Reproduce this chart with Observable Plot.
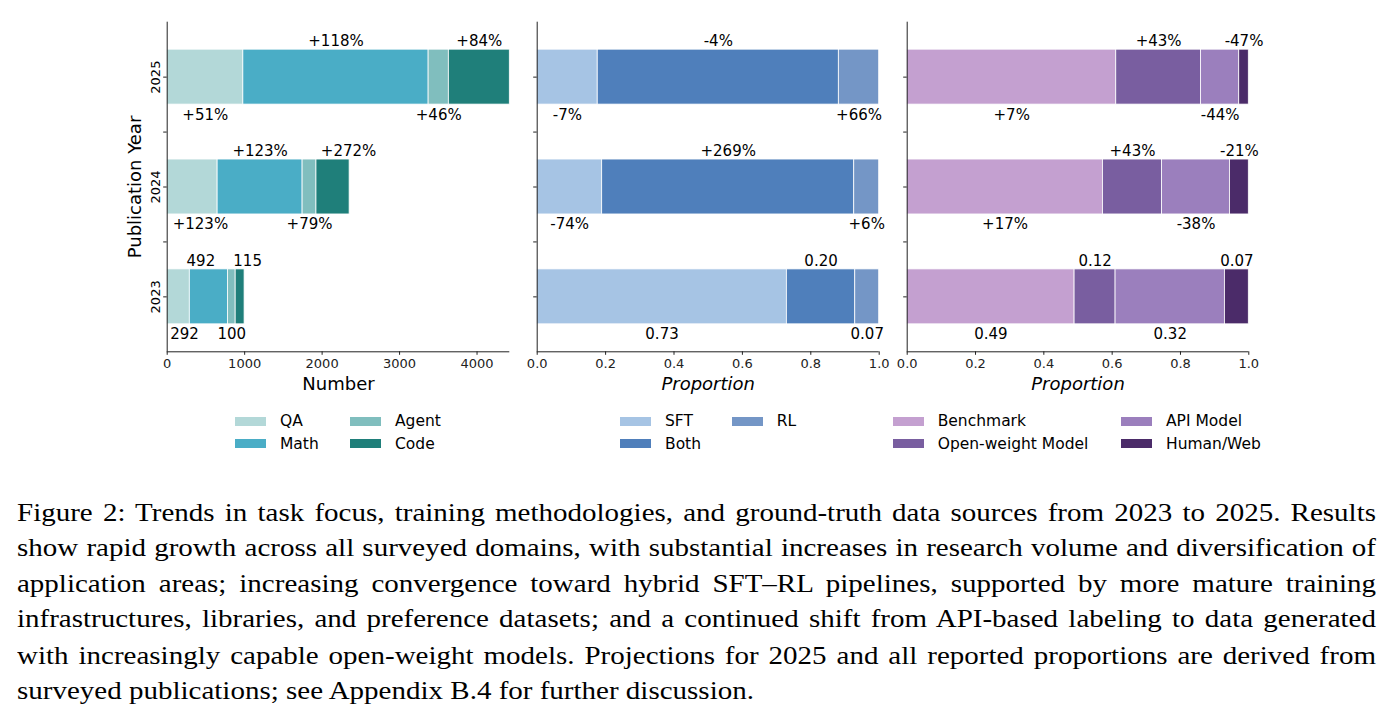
<!DOCTYPE html>
<html><head><meta charset="utf-8">
<script src="https://cdn.jsdelivr.net/npm/d3@7"></script>
<script src="https://cdn.jsdelivr.net/npm/@observablehq/plot@0.6"></script>
<style>
body{margin:0;background:#fff;}
#root{position:relative;width:1393px;height:723px;overflow:hidden;font-family:"DejaVu Sans";background:#fff;}
.panel{position:absolute;top:0;}
.panel svg{overflow:visible;}
.sw{position:absolute;width:31px;height:9px;}
.lt{position:absolute;font-size:15.5px;line-height:18px;white-space:nowrap;color:#000;}
#cap{position:absolute;left:17px;top:494.5px;width:1359px;font-family:"Liberation Serif";font-size:29px;line-height:41.4px;color:#000;
  transform:scaleY(0.86);transform-origin:0 0;word-spacing:-2px;}
#cap div{text-align:justify;text-align-last:justify;}
#cap div.last{text-align-last:left;word-spacing:0;}
</style></head>
<body><div id="root"></div>
<script>
// ---------- data ----------
const years = [2023, 2024, 2025];

const taskNames = ["QA", "Math", "Agent", "Code"];
const taskColors = ["#b3d8d8", "#4aadc6", "#80bebe", "#1f7f7a"];
const task2023 = [292, 492, 100, 115];
const task2024 = [651, 1097, 179, 428];
const task2025 = [983, 2392, 261, 787];
const taskLabels2023 = ["292", "492", "100", "115"];
const taskLabels2024 = ["+123%", "+123%", "+79%", "+272%"];
const taskLabels2025 = ["+51%", "+118%", "+46%", "+84%"];

const methodNames = ["SFT", "Both", "RL"];
const methodColors = ["#a6c4e4", "#4f7fbb", "#7496c6"];
const method2023 = [0.73, 0.20, 0.07];
const method2024 = [0.19, 0.737, 0.073];
const method2025 = [0.177, 0.705, 0.118];
const methodLabels2023 = ["0.73", "0.20", "0.07"];
const methodLabels2024 = ["-74%", "+269%", "+6%"];
const methodLabels2025 = ["-7%", "-4%", "+66%"];

const sourceNames = ["Benchmark", "Open-weight Model", "API Model", "Human/Web"];
const sourceColors = ["#c4a0d0", "#795ea0", "#9b7fbd", "#4b2b69"];
const source2023 = [0.49, 0.12, 0.32, 0.07];
const source2024 = [0.573, 0.173, 0.199, 0.055];
const source2025 = [0.612, 0.248, 0.112, 0.028];
const sourceLabels2023 = ["0.49", "0.12", "0.32", "0.07"];
const sourceLabels2024 = ["+17%", "+43%", "-38%", "-21%"];
const sourceLabels2025 = ["+7%", "+43%", "-44%", "-47%"];

const countTicks = [0, 1000, 2000, 3000, 4000];
const propTicks = [0, 0.2, 0.4, 0.6, 0.8, 1.0];
const yTicks = [2023, 2023.5, 2024, 2024.5, 2025];

const captionLines = [
  "Figure 2: Trends in task focus, training methodologies, and ground-truth data sources from 2023 to 2025. Results",
  "show rapid growth across all surveyed domains, with substantial increases in research volume and diversification of",
  "application areas; increasing convergence toward hybrid SFT\u2013RL pipelines, supported by more mature training",
  "infrastructures, libraries, and preference datasets; and a continued shift from API-based labeling to data generated",
  "with increasingly capable open-weight models. Projections for 2025 and all reported proportions are derived from",
  "surveyed publications; see Appendix B.4 for further discussion."
];

// layout-only: horizontal nudges (px) applied to a few crowded labels in the left panel
const taskLabelNudge = [[6, -8, 0, 7.5], [8, 0, 0, 15.5], [0, 0, 0, 0]];
const zeroNudge = [[0, 0, 0, 0], [0, 0, 0, 0], [0, 0, 0, 0]];

// ---------- build ----------
const root = document.getElementById("root");

function buildRows(names, valuesByYear, labelsByYear, nudge) {
  const rows = [];
  years.forEach((yr, k) => {
    let acc = 0;
    valuesByYear[k].forEach((v, i) => {
      rows.push({year: yr, name: names[i], x1: acc, x2: acc + v, mid: acc + v / 2,
                 label: labelsByYear[k][i], above: i % 2 === 1, nudge: nudge[k][i]});
      acc += v;
    });
  });
  return rows;
}

function panel(cfg) {
  const rows = buildRows(cfg.names, cfg.values, cfg.labels, cfg.nudge);
  const labelMarks = [];
  for (const r of rows) {
    labelMarks.push(Plot.text([r], {x: "mid", y: d => d.above ? d.year + 0.25 : d.year - 0.25, text: "label",
      lineAnchor: r.above ? "bottom" : "top", dy: r.above ? -3.6 : 4.3, dx: r.nudge,
      textAnchor: "middle", fontSize: 15, fill: "#000"}));
  }
  const marks = [
    Plot.rectX(rows, {x1: "x1", x2: "x2", y1: d => d.year - 0.25, y2: d => d.year + 0.25,
      fill: "name", stroke: "white", strokeWidth: 0.8}),
    ...labelMarks,
    Plot.axisX({ticks: cfg.ticks, tickFormat: cfg.fmt, tickSize: 3.5, tickPadding: 3.5, label: null, fontSize: 13}),
    Plot.axisY({ticks: yTicks, tickFormat: () => "", tickSize: 3.5, label: null}),
    Plot.ruleX([0], {stroke: "#222", strokeWidth: 1}),
    Plot.ruleY([2022.5], {stroke: "#222", strokeWidth: 1}),
    Plot.text([cfg.xLabel], {text: d => d, frameAnchor: "bottom", lineAnchor: "bottom", textAnchor: "middle", dy: 37.7,
      fontSize: 18, fontStyle: cfg.italic ? "italic" : "normal", fill: "#000"})
  ];
  if (cfg.yLabels) {
    marks.push(Plot.text(years, {y: d => d, text: d => String(d), frameAnchor: "left", rotate: -90,
      lineAnchor: "bottom", textAnchor: "middle", dx: -7.4, fontSize: 13, fill: "#000"}));
    marks.push(Plot.text(["Publication Year"], {text: d => d, frameAnchor: "left", rotate: -90,
      lineAnchor: "bottom", textAnchor: "middle", dx: -26.2, fontSize: 18, fill: "#000"}));
  }
  const chart = Plot.plot({
    width: cfg.width, height: 400,
    marginLeft: cfg.ml, marginRight: cfg.mr, marginTop: 21.7, marginBottom: 48.7,
    style: {fontFamily: "DejaVu Sans", fontSize: "13px", color: "#222", background: "transparent", overflow: "visible"},
    x: {domain: cfg.domain},
    y: {type: "linear", domain: [2022.5, 2025.5]},
    color: {domain: cfg.names, range: cfg.colors},
    marks
  });
  const div = document.createElement("div");
  div.className = "panel";
  div.style.left = cfg.left + "px";
  div.appendChild(chart);
  root.appendChild(div);
}

const maxCount = d3.max([task2023, task2024, task2025], a => d3.sum(a));

panel({names: taskNames, colors: taskColors, values: [task2023, task2024, task2025],
  labels: [taskLabels2023, taskLabels2024, taskLabels2025], nudge: taskLabelNudge, domain: [0, maxCount],
  ticks: countTicks, fmt: d3.format("d"), xLabel: "Number", italic: false, yLabels: true,
  left: 0, width: 520, ml: 166.7, mr: 10.7});
panel({names: methodNames, colors: methodColors, values: [method2023, method2024, method2025],
  labels: [methodLabels2023, methodLabels2024, methodLabels2025], nudge: zeroNudge, domain: [0, 1],
  ticks: propTicks, fmt: d3.format(".1f"), xLabel: "Proportion", italic: true, yLabels: false,
  left: 520, width: 370, ml: 16.7, mr: 11.3});
panel({names: sourceNames, colors: sourceColors, values: [source2023, source2024, source2025],
  labels: [sourceLabels2023, sourceLabels2024, sourceLabels2025], nudge: zeroNudge, domain: [0, 1],
  ticks: propTicks, fmt: d3.format(".1f"), xLabel: "Proportion", italic: true, yLabels: false,
  left: 890, width: 390, ml: 16.7, mr: 31.7});

// ---------- legends ----------
function legend(names, colors, colX) {
  const rowsN = Math.ceil(names.length / 2);
  names.forEach((n, i) => {
    const col = Math.floor(i / rowsN), row = i % rowsN;
    const top = 416.7 + row * 22.3;
    const sw = document.createElement("div");
    sw.className = "sw";
    sw.style.left = colX[col] + "px"; sw.style.top = top + "px"; sw.style.background = colors[i];
    root.appendChild(sw);
    const t = document.createElement("div");
    t.className = "lt";
    t.style.left = (colX[col] + 45) + "px"; t.style.top = (top + 4.5 - 9) + "px";
    t.textContent = n;
    root.appendChild(t);
  });
}
legend(taskNames, taskColors, [235, 350]);
legend(methodNames, methodColors, [620, 731.7]);
legend(sourceNames, sourceColors, [892.7, 1121]);

// ---------- caption ----------
const cap = document.createElement("div");
cap.id = "cap";
captionLines.forEach((l, i) => {
  const d = document.createElement("div");
  if (i === captionLines.length - 1) d.className = "last";
  d.textContent = l;
  cap.appendChild(d);
});
root.appendChild(cap);
</script>
</body></html>
